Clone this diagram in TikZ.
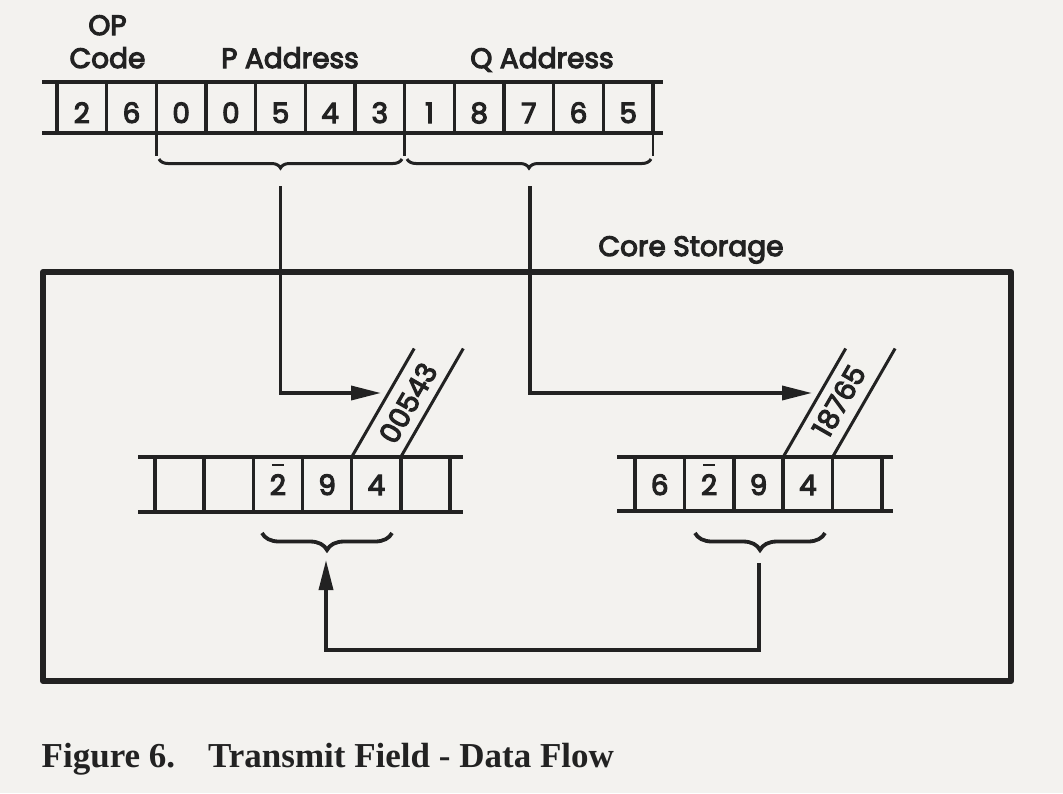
\documentclass[tikz,border=0pt]{standalone}
\usepackage{fontspec}
\setmainfont{Liberation Serif}
\newfontfamily\geo{Poppins}[FakeBold=4]
\usetikzlibrary{arrows.meta,decorations.pathreplacing}
\definecolor{paper}{RGB}{243,242,239}
\definecolor{ink}{RGB}{34,34,34}
\newcommand{\bardigit}[1]{\ooalign{#1\cr\hidewidth\rule[29pt]{12pt}{2.4pt}\hidewidth\cr}}
\tikzset{
  lab/.style={font=\geo\fontsize{28}{30}\selectfont, inner sep=0pt, anchor=base, text=ink},
  dig/.style={font=\geo\fontsize{28}{30}\selectfont, inner sep=0pt, anchor=base, text=ink},
  regline/.style={line width=4.5pt, draw=ink},
  cellline/.style={line width=3.5pt, draw=ink},
  tick/.style={line width=2.5pt, draw=ink},
  conn/.style={line width=3.5pt, draw=ink},
  arr/.style={conn, -{Triangle[length=30pt,width=14pt]}, color=ink},
  slant/.style={line width=3pt, draw=ink},
  bracetop/.style={decorate, decoration={brace, mirror, amplitude=9pt}, line width=3pt, draw=ink},
  bracelow/.style={decorate, decoration={brace, mirror, amplitude=17pt}, line width=3.8pt, draw=ink},
  boxline/.style={line width=6pt, line join=round, draw=ink},
  caption/.style={font=\bfseries\fontsize{35}{38}\selectfont, inner sep=0pt, anchor=base west, text=ink}
}
\begin{document}
\begin{tikzpicture}[x=1pt,y=-1pt]
\fill[paper] (0,0) rectangle (1063,793);
\useasboundingbox (0,0) rectangle (1063,793);

% ---- instruction register ----
\node[lab] (op) at (107.5,35) {OP};
\node[lab] (code) at (107.5,68) {Code};
\node[lab] (paddr) at (290,68) {P Address};
\node[lab] (qaddr) at (542,68) {Q Address};
\foreach \d [count=\i] in {2,6,0,0,5,4,3,1,8,7,6,5}
  \node[dig] (t\i) at ({57+49.67*(\i-0.5)},123) {\d};
\foreach \i in {0,...,12}
  \draw[cellline] ({57+49.67*\i},82) -- ({57+49.67*\i},133);
\draw[regline] (42,82) -- (663,82);
\draw[regline] (42,133) -- (663,133);
\draw[tick] (156.3,133) -- (156.3,156);
\draw[tick] (404.7,133) -- (404.7,156);
\draw[tick] (653,133) -- (653,156);
\draw[bracetop] (159,159) -- (402,159);
\draw[bracetop] (407,159) -- (651,159);

% ---- core storage box ----
\draw[boxline] (43,272) rectangle (1011,681);
\node[lab] (core) at (691,256) {Core Storage};

% ---- left storage field ----
\draw[regline] (138,457) -- (463,457);
\draw[regline] (138,512) -- (463,512);
\foreach \i in {0,...,6}
  \draw[cellline] ({155+49.17*\i},457) -- ({155+49.17*\i},512);
\foreach \d [count=\i] in {{},{},{\bardigit{2}},9,4,{}}
  \node[dig] (l\i) at ({155+49.17*(\i-0.5)},495) {\d};
\coordinate (ls1) at (351.7,457);
\coordinate (ls2) at (400.8,457);
\draw[slant] (ls1) -- ++(62.5,-108.5);
\draw[slant] (ls2) -- ++(62.5,-108.5);
\node[dig, anchor=center, rotate=60] (lstripe) at (408,403) {00543};

% ---- right storage field ----
\draw[regline] (617,457) -- (893,457);
\draw[regline] (617,511) -- (893,511);
\foreach \i in {0,...,5}
  \draw[cellline] ({635+49.4*\i},457) -- ({635+49.4*\i},511);
\foreach \d [count=\i] in {6,{\bardigit{2}},9,4,{}}
  \node[dig] (r\i) at ({635+49.4*(\i-0.5)},495) {\d};
\coordinate (rs1) at (783.2,457);
\coordinate (rs2) at (832.6,457);
\draw[slant] (rs1) -- ++(62.5,-108.5);
\draw[slant] (rs2) -- ++(62.5,-108.5);
\node[dig, anchor=center, rotate=60] (rstripe) at (839,401) {18765};

% ---- lower braces ----
\draw[bracelow] (262,533) -- (392,533);
\draw[bracelow] (695,533) -- (825,533);

% ---- connectors ----
\coordinate (pstart) at (280.5,186);
\coordinate (pend) at (381,393);
\coordinate (qstart) at (530,186);
\coordinate (qend) at (812,393);
\coordinate (rstart) at (759,563);
\coordinate (ltip) at (326,560);
\draw[arr] (pstart) |- (pend);
\draw[arr] (qstart) |- (qend);
\draw[arr] (rstart) -- ++(0,87) -| (ltip);

% ---- caption ----
\node[caption] (fig) at (41.5,767) {Figure 6.};
\node[caption] (title) at (208,767) {Transmit Field - Data Flow};
\end{tikzpicture}
\end{document}
